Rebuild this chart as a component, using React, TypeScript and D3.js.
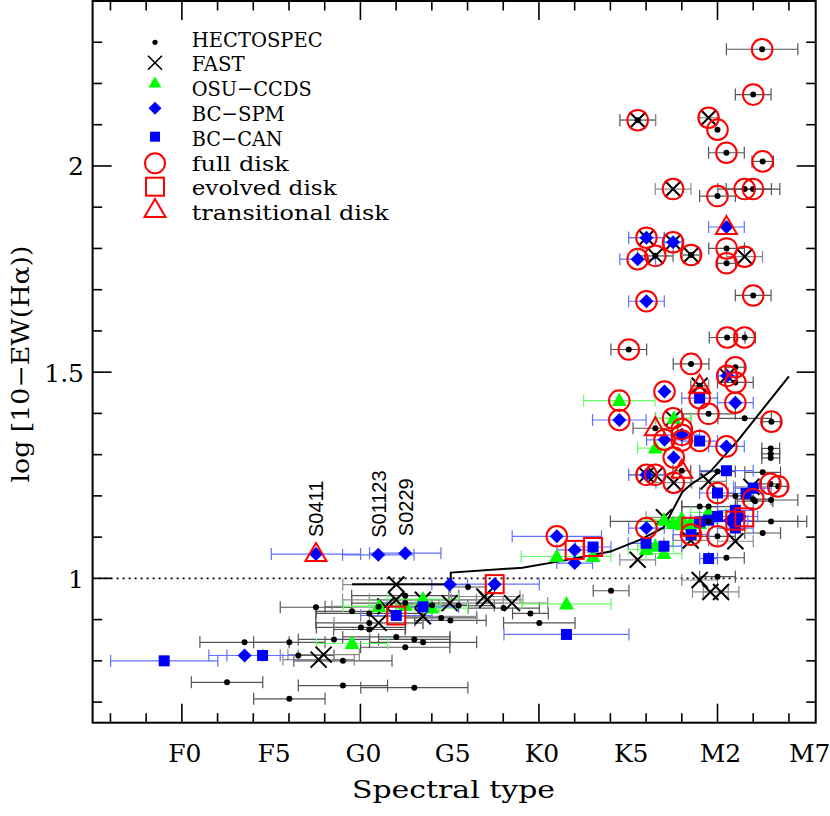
import React from "react";
import * as d3 from "d3";

// ---------- data (x = spectral subclass index, F0 = 0; y = log[10-EW]; e = x error) ----------
const xTickValues = [0, 5, 10, 15, 20, 25, 30, 35];
const xTickLabels = ["F0", "F5", "G0", "G5", "K0", "K5", "M2", "M7"];
const yTickValues = [1, 1.5, 2];
const yTickLabels = ["1", "1.5", "2"];

const hectospec: number[][] = [
  [32.5, 2.283, 2], [32.0, 2.173, 1], [25.53, 2.111, 1], [30.0, 2.088, 0], [30.5, 2.032, 1],
  [32.53, 2.011, 0.6], [30.0, 1.927, 1], [31.52, 1.944, 1.5], [31.99, 1.944, 1.5], [26.52, 1.782, 1],
  [28.52, 1.784, 0.5], [30.51, 1.80, 1], [30.51, 1.764, 0.5], [32.0, 1.686, 1], [30.54, 1.584, 1],
  [31.52, 1.584, 0.6], [25.03, 1.555, 1], [28.52, 1.52, 1], [31.0, 1.512, 0.5], [31.0, 1.475, 1],
  [29.0, 1.467, 0.5], [29.5, 1.399, 1.5], [31.52, 1.388, 1.5], [33.02, 1.38, 0.5], [26.52, 1.364, 1.25],
  [32.98, 1.315, 0.5], [32.98, 1.302, 0.5], [32.98, 1.292, 0.5], [28.0, 1.261, 0.5], [30.0, 1.259, 1],
  [32.53, 1.257, 1], [32.96, 1.229, 0.5], [33.4, 1.223, 0.5], [32.0, 1.192, 1], [31.0, 1.20, 1],
  [32.1, 1.187, 1], [33.0, 1.19, 1.5], [29.0, 1.174, 1], [29.5, 1.174, 1.5], [33.0, 1.138, 1.5],
  [32.53, 1.11, 1], [30.0, 1.102, 1], [30.5, 1.05, 1], [30.0, 1.004, 1], [29.5, 1.138, 5.5],
  [24.04, 0.970, 1], [18.02, 0.928, 2], [19.52, 0.915, 1], [20.02, 0.892, 2],
  [7.51, 0.930, 2], [9.53, 0.920, 2], [10.5, 0.915, 3], [10.5, 0.892, 3], [10.03, 0.881, 2.5],
  [10.5, 0.876, 2], [3.51, 0.845, 2.5], [6.02, 0.845, 2], [8.52, 0.852, 2], [6.52, 0.813, 2],
  [9.02, 0.80, 2.75], [2.53, 0.748, 2], [9.02, 0.74, 2.5], [6.02, 0.708, 2], [13.02, 0.735, 3],
  [11.02, 0.931, 3], [12.51, 0.958, 3], [12.51, 0.94, 3], [14.01, 0.935, 2], [14.52, 0.904, 2],
  [15.04, 0.898, 2], [16.03, 0.979, 1], [12.01, 0.858, 3], [13.02, 0.852, 2], [13.51, 0.845, 3],
  [12.51, 0.833, 2.5], [15.5, 0.934, 2],
];

const fast: number[][] = [
  [25.53, 2.111, 1], [29.5, 2.117, 0.5], [27.51, 1.944, 1], [26.02, 1.826, 1], [27.51, 1.815, 0.5],
  [26.52, 1.782, 1], [28.52, 1.784, 0.5], [31.52, 1.78, 1], [30.54, 1.491, 0.5], [29.0, 1.467, 0.5],
  [27.51, 1.388, 1], [26.02, 1.251, 1], [26.52, 1.251, 1], [27.55, 1.232, 1], [29.5, 1.235, 1],
  [31.9, 1.222, 1], [27.0, 1.148, 1], [28.5, 1.092, 1], [31.0, 1.09, 1], [25.53, 1.045, 1],
  [29.0, 0.996, 1], [29.6, 0.967, 1], [30.2, 0.967, 1],
  [12.01, 0.985, 3], [12.0, 0.948, 3], [11.4, 0.932, 3], [13.5, 0.948, 3], [13.5, 0.908, 3],
  [11.02, 0.892, 2.5], [15.0, 0.94, 3], [16.94, 0.956, 2], [17.1, 0.948, 2], [18.49, 0.94, 2],
  [7.94, 0.815, 2], [7.66, 0.803, 2],
];

const osuCcds: number[][] = [
  [24.5, 1.431, 2], [27.55, 1.388, 1], [26.52, 1.316, 1], [21.0, 1.053, 2], [23.03, 1.053, 1],
  [26.0, 1.07, 1], [27.0, 1.06, 1], [26.52, 1.078, 1], [27.0, 1.141, 1], [27.5, 1.133, 1],
  [28.0, 1.145, 1], [28.0, 1.13, 1], [28.5, 1.133, 1], [29.0, 1.133, 1], [29.5, 1.16, 1],
  [21.54, 0.938, 2.5], [13.5, 0.95, 2], [14.0, 0.928, 2], [12.5, 0.934, 2], [9.53, 0.842, 2],
  [11.04, 0.932, 2],
];

const bcSpm: number[][] = [
  [30.5, 1.852, 1], [26.02, 1.826, 1], [27.51, 1.815, 0.5], [25.53, 1.774, 1], [26.02, 1.672, 1],
  [30.54, 1.491, 0.5], [27.03, 1.453, 0], [31.0, 1.426, 1], [24.5, 1.384, 1.5], [28.0, 1.348, 1],
  [27.03, 1.336, 1], [30.5, 1.32, 1], [27.55, 1.293, 0], [26.02, 1.251, 1], [26.02, 1.122, 1],
  [21.0, 1.102, 2.5], [22.0, 1.069, 1], [22.0, 1.037, 1], [31.25, 1.15, 1], [30.7, 1.14, 1],
  [7.51, 1.059, 2.5], [11.0, 1.057, 2], [12.51, 1.061, 2], [15.0, 0.985, 1], [17.52, 0.986, 2.5],
  [3.51, 0.813, 2],
];

const bcCan: number[][] = [
  [29.0, 1.437, 1], [29.0, 1.333, 1], [30.5, 1.261, 1.5], [30.0, 1.207, 1], [32.0, 1.219, 1],
  [31.6, 1.206, 1], [30.0, 1.15, 1], [29.5, 1.141, 1], [29.0, 1.137, 1], [31.0, 1.14, 1],
  [31.0, 1.122, 1], [31.0, 1.165, 1], [26.0, 1.085, 1], [27.0, 1.078, 1], [29.5, 1.048, 0.5],
  [28.52, 1.106, 1], [23.03, 1.076, 1], [21.54, 0.864, 3.5], [12.01, 0.91, 2], [13.5, 0.931, 2],
  [4.52, 0.813, 2], [-0.99, 0.80, 3],
];

const fullDisk: number[][] = [
  [32.5, 2.283], [32.0, 2.173], [25.53, 2.111], [29.5, 2.117], [30.0, 2.088], [30.5, 2.032],
  [32.53, 2.011], [27.51, 1.944], [30.0, 1.927], [31.52, 1.944], [31.99, 1.944], [26.02, 1.826],
  [27.51, 1.815], [25.53, 1.774], [26.52, 1.782], [28.52, 1.784], [30.51, 1.80], [30.51, 1.764],
  [31.52, 1.78], [32.0, 1.686], [26.02, 1.672], [30.54, 1.584], [31.52, 1.584], [25.03, 1.555],
  [28.52, 1.52], [31.0, 1.512], [30.54, 1.491], [31.0, 1.475], [27.03, 1.453], [29.0, 1.437],
  [24.5, 1.431], [31.0, 1.426], [29.5, 1.399], [33.02, 1.38], [24.5, 1.384], [27.51, 1.388],
  [28.0, 1.362], [28.0, 1.348], [28.0, 1.334], [27.03, 1.336], [29.0, 1.333], [30.5, 1.32],
  [27.55, 1.293], [26.02, 1.251], [26.52, 1.251], [27.55, 1.232], [32.96, 1.229], [33.4, 1.223],
  [30.0, 1.207], [32.0, 1.192], [26.02, 1.122], [28.52, 1.106], [30.0, 1.102], [21.0, 1.102],
];

const evolvedDisk: number[][] = [
  [12.01, 0.91], [17.52, 0.986], [22.0, 1.069], [23.03, 1.076], [28.52, 1.125], [31.0, 1.14], [31.5, 1.148],
];

const transitionalDisk: number[][] = [
  [7.51, 1.059], [30.5, 1.852], [29.0, 1.467], [26.52, 1.364], [28.0, 1.261],
];

const modelCurve: number[][] = [
  [9.53, 0.986], [15.06, 0.986], [15.06, 1.014], [19.07, 1.026], [21.37, 1.043], [24.0, 1.065],
  [25.68, 1.094], [26.97, 1.123], [28.04, 1.21], [28.49, 1.227], [29.6, 1.259], [31.17, 1.336], [34.0, 1.49],
];

const starLabels = ["S0411", "S01123", "S0229"];
const starLabelX = [7.51, 11.0, 12.51];
const starLabelY = [1.059, 1.057, 1.061];

const legendLabels = ["HECTOSPEC", "FAST", "OSU\u2212CCDS", "BC\u2212SPM", "BC\u2212CAN", "full disk", "evolved disk", "transitional disk"];
const legendWidths = [131, 53, 120, 93, 91, 97, 145, 197];

// ---------- layout ----------
const W = 830, H = 816;
const L = 92.6, R = 815.7, T = 1, B = 722.7;
const x = d3.scaleLinear().domain([-5, 35.5]).range([L, R]);
const y = d3.scaleLinear().domain([0.65, 2.4]).range([B, T]);

const RED = "#ff0000";
const BLUE = "#0000ff";
const GREEN = "#00ff00";
const serif = "'DejaVu Serif', 'Liberation Serif', serif";

function ErrBars({ data, color }: { data: number[][]; color: string }) {
  return (
    <g stroke={color} strokeWidth={1.2} fill="none">
      {data.filter((d) => d[2] > 0).map((d, i) => {
        const x0 = x(d[0] - d[2]), x1 = x(d[0] + d[2]), yy = y(d[1]);
        return (
          <g key={i}>
            <line x1={x0} x2={x1} y1={yy} y2={yy} />
            <line x1={x0} x2={x0} y1={yy - 6} y2={yy + 6} />
            <line x1={x1} x2={x1} y1={yy - 6} y2={yy + 6} />
          </g>
        );
      })}
    </g>
  );
}

const crossPath = (cx: number, cy: number, s: number) => `M${cx - s},${cy - s}L${cx + s},${cy + s}M${cx - s},${cy + s}L${cx + s},${cy - s}`;
const triPath = (cx: number, cy: number, hw: number, up: number, down: number) => `M${cx},${cy - up}L${cx + hw},${cy + down}L${cx - hw},${cy + down}Z`;
const diaPath = (cx: number, cy: number, s: number) => `M${cx},${cy - s}L${cx + s},${cy}L${cx},${cy + s}L${cx - s},${cy}Z`;

export default function App() {
  const minorX = d3.range(-4, 35.1, 2);
  const minorY = d3.range(0.7, 2.35, 0.1);
  const line = d3.line<number[]>().x((d) => x(d[0])).y((d) => y(d[1]));
  const legendY = [46.7, 71, 96, 121, 146, 170.7, 195.3, 220];
  const lx = 155;

  return (
    <svg width={W} height={H} style={{ position: "absolute", left: 0, top: 0, background: "#fff" }}>
      <rect width={W} height={H} fill="#fff" />
      {/* dotted reference line */}
      <line x1={L} x2={R} y1={y(1)} y2={y(1)} stroke="#000" strokeWidth={1.8} strokeDasharray="2,4" />

      {/* error bars */}
      <ErrBars data={hectospec} color="#555" />
      <ErrBars data={fast} color="#8a8a8a" />
      <ErrBars data={osuCcds} color="#66ff66" />
      <ErrBars data={bcSpm} color="#6070ff" />
      <ErrBars data={bcCan} color="#6070ff" />

      {/* model curve */}
      <path d={line(modelCurve) || ""} fill="none" stroke="#000" strokeWidth={2} />

      {/* FAST */}
      <g stroke="#000" strokeWidth={2} fill="none">
        {fast.map((d, i) => <path key={i} d={crossPath(x(d[0]), y(d[1]), 8)} />)}
      </g>
      {/* OSU-CCDS */}
      <g fill={GREEN}>
        {osuCcds.map((d, i) => <path key={i} d={triPath(x(d[0]), y(d[1]), 7.5, 8, 5.5)} />)}
      </g>
      {/* BC-SPM */}
      <g fill={BLUE}>
        {bcSpm.map((d, i) => <path key={i} d={diaPath(x(d[0]), y(d[1]), 7)} />)}
      </g>
      {/* BC-CAN */}
      <g fill={BLUE}>
        {bcCan.map((d, i) => <rect key={i} x={x(d[0]) - 5.5} y={y(d[1]) - 5.5} width={11} height={11} />)}
      </g>
      {/* HECTOSPEC */}
      <g fill="#000">
        {hectospec.map((d, i) => <circle key={i} cx={x(d[0])} cy={y(d[1])} r={3} />)}
      </g>
      {/* disks */}
      <g stroke={RED} strokeWidth={2} fill="none">
        {fullDisk.map((d, i) => <circle key={i} cx={x(d[0])} cy={y(d[1])} r={10.3} />)}
        {evolvedDisk.map((d, i) => <rect key={i} x={x(d[0]) - 9} y={y(d[1]) - 9} width={18} height={18} />)}
        {transitionalDisk.map((d, i) => <path key={i} d={triPath(x(d[0]), y(d[1]), 10.5, 11, 7)} />)}
      </g>

      {/* star labels */}
      {starLabels.map((s, i) => (
        <text key={s} transform={`translate(${x(starLabelX[i]) + 7.5},${y(starLabelY[i]) - 17}) rotate(-90)`}
          fontFamily="'Liberation Sans', Arial, sans-serif" fontSize={20}>{s}</text>
      ))}

      {/* frame */}
      <rect x={L} y={T} width={R - L} height={B - T} fill="none" stroke="#000" strokeWidth={2} />
      {/* ticks */}
      <g stroke="#000" strokeWidth={1.6}>
        {minorX.map((v) => {
          const major = Math.abs(v % 10) < 1e-6;
          const len = major ? 19 : 9.5;
          return (
            <g key={v}>
              <line x1={x(v)} x2={x(v)} y1={B} y2={B - len} />
              <line x1={x(v)} x2={x(v)} y1={T} y2={T + len} />
            </g>
          );
        })}
        {minorY.map((v) => {
          const major = Math.abs((v * 10) % 5) < 1e-6 || Math.abs((v * 10) % 5 - 5) < 1e-6;
          const len = major ? 19 : 9.5;
          return (
            <g key={v.toFixed(2)}>
              <line x1={L} x2={L + len} y1={y(v)} y2={y(v)} />
              <line x1={R} x2={R - len} y1={y(v)} y2={y(v)} />
            </g>
          );
        })}
      </g>
      {/* tick labels */}
      <g fontFamily={serif} fontSize={25} fill="#000">
        {xTickValues.map((v, i) => (
          <text key={v} x={x(v) + 3} y={762} textAnchor="middle">{xTickLabels[i]}</text>
        ))}
        {yTickValues.map((v, i) => (
          <text key={v} x={84} y={y(v) + 9.5} textAnchor="end">{yTickLabels[i]}</text>
        ))}
      </g>
      {/* axis titles */}
      <text x={453.5} y={798} textAnchor="middle" fontFamily={serif} fontSize={25} textLength={203} lengthAdjust="spacingAndGlyphs">Spectral type</text>
      <text transform="translate(29,364) rotate(-90)" textAnchor="middle" fontFamily={serif} fontSize={24} textLength={237} lengthAdjust="spacingAndGlyphs">{"log [10\u2212EW(H\u03b1))"}</text>

      {/* legend */}
      <g>
        <circle cx={lx} cy={42.3} r={2.6} fill="#000" />
        <path d={crossPath(lx, 62.7, 7)} stroke="#000" strokeWidth={1.6} fill="none" />
        <path d={triPath(lx, 83, 6.5, 6.5, 4.5)} fill={GREEN} />
        <path d={diaPath(lx, 108.3, 6.5)} fill={BLUE} />
        <rect x={lx - 5} y={131.7} width={10} height={10} fill={BLUE} />
        <circle cx={lx} cy={163.3} r={10} stroke={RED} strokeWidth={2} fill="none" />
        <rect x={lx - 9} y={177.7} width={18} height={18} stroke={RED} strokeWidth={2} fill="none" />
        <path d={triPath(lx, 210, 10.5, 11, 7)} stroke={RED} strokeWidth={2} fill="none" />
        {legendLabels.map((s, i) => (
          <text key={s} x={191.7} y={legendY[i]} fontFamily={serif} fontSize={21} textLength={legendWidths[i]} lengthAdjust="spacingAndGlyphs">{s}</text>
        ))}
      </g>
    </svg>
  );
}
